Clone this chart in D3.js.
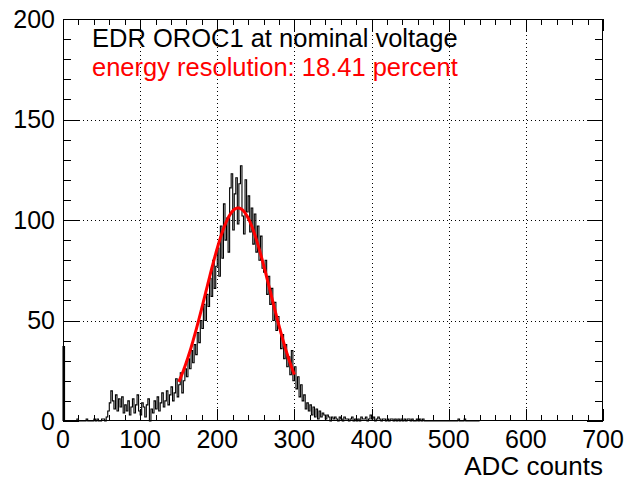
<!DOCTYPE html>
<html>
<head>
<meta charset="utf-8">
<script src="https://cdn.jsdelivr.net/npm/d3@7"></script>
<style>
  html, body { margin: 0; padding: 0; background: #fff; }
  svg { display: block; font-family: "Liberation Sans", Arial, Helvetica, sans-serif; }
</style>
</head>
<body>
<svg id="chart" width="624" height="484"></svg>
<script>
// ADC spectrum, 2 ADC counts per bin, first bin starting at 0
const binStart = 0;
const binWidth = 2;
const counts = [
  37, 0, 0, 0, 0, 0, 0, 0, 0, 1,          // 0-20
  0, 0, 0, 0, 0, 1, 0, 0, 0, 0,           // 20-40
  1, 0, 1, 0, 0, 1, 1, 0, 2, 5,           // 40-60
  9, 15, 10, 6, 13, 5, 11, 7, 12, 4,      // 60-80
  8, 5, 10, 3, 7, 11, 4, 8, 13, 5,        // 80-100
  3, 9, 7, 2, 8, 11, 0, 6, 4, 10,         // 100-120
  6, 12, 5, 9, 14, 7, 10, 15, 8, 13,      // 120-140
  17, 10, 14, 21, 12, 18, 24, 14, 20, 26, // 140-160
  22, 31, 26, 35, 29, 38, 33, 44, 39, 50, // 160-180
  46, 58, 50, 63, 57, 71, 62, 80, 66, 77, // 180-200
  86, 72, 97, 81, 108, 90, 101, 84, 116, 123, // 200-220
  95, 113, 121, 98, 118, 127, 102, 93, 120, 104, // 220-240
  112, 94, 106, 88, 103, 84, 97, 80, 92, 76, // 240-260
  74, 80, 63, 72, 58, 66, 50, 59, 45, 52, // 260-280
  46, 36, 43, 31, 38, 27, 32, 23, 35, 20, // 280-300
  27, 16, 22, 12, 18, 10, 13, 6, 9, 5,    // 300-320
  8, 3, 7, 2, 6, 1, 5, 2, 4, 3,           // 320-340
  1, 3, 2, 0, 2, 1, 2, 1, 0, 2,           // 340-360
  1, 0, 2, 1, 1, 0, 1, 2, 0, 1,           // 360-380
  0, 1, 0, 2, 1, 1, 2, 0, 1, 3,           // 380-400
  1, 2, 0, 1, 2, 1, 0, 1, 1, 0,           // 400-420
  1, 0, 1, 1, 0, 1, 0, 1, 0, 1,           // 420-440
  0, 1, 0, 1, 1, 0, 1, 0, 0, 1,           // 440-460
  0, 1, 0, 1, 0, 0, 0, 0, 0, 0,           // 460-480
  0, 0, 0, 0, 0, 0, 0, 0, 0, 0,           // 480-500
  0, 0, 0, 0, 0, 0, 1, 0, 0, 0,           // 500-520
  1, 0, 0, 0, 0, 0, 0, 0, 0, 0            // 520-540
];

// Gaussian fit of the photo peak
const fitAmplitude = 106;
const fitMean = 227;
const resolutionPercent = 18.41;            // sigma / mean
const fitRange = [150, 300];

// Axes
const xDomain = [0, 700];
const yDomain = [0, 200];
const xMajorTicks = [0, 100, 200, 300, 400, 500, 600, 700];
const yMajorTicks = [0, 50, 100, 150, 200];
const xMinorStep = 20;
const yMinorStep = 10;

const xTitle = "ADC counts";
const titleLine = "EDR OROC1 at nominal voltage";
const resolutionLine = "energy resolution: " + resolutionPercent.toFixed(2) + " percent";

// ---- layout ----
const frame = { left: 63, top: 19, right: 603, bottom: 421 };
const svg = d3.select("#chart");
svg.append("rect").attr("width", 624).attr("height", 484).attr("fill", "#fff");

const x = d3.scaleLinear().domain(xDomain).range([frame.left, frame.right]);
const y = d3.scaleLinear().domain(yDomain).range([frame.bottom, frame.top]);

const xMinor = d3.range(xDomain[0], xDomain[1] + 1e-9, xMinorStep).filter(v => !xMajorTicks.includes(v));
const yMinor = d3.range(yDomain[0], yDomain[1] + 1e-9, yMinorStep).filter(v => !yMajorTicks.includes(v));

// grid (dotted at major ticks)
const grid = svg.append("g").attr("stroke", "#000").attr("stroke-width", 1)
  .attr("stroke-dasharray", "1,3").attr("shape-rendering", "crispEdges");
xMajorTicks.filter(v => v > xDomain[0] && v < xDomain[1]).forEach(v => {
  grid.append("line").attr("x1", Math.round(x(v)) + 0.5).attr("x2", Math.round(x(v)) + 0.5)
    .attr("y1", frame.top).attr("y2", frame.bottom);
});
yMajorTicks.filter(v => v > yDomain[0] && v < yDomain[1]).forEach(v => {
  grid.append("line").attr("y1", Math.round(y(v)) + 0.5).attr("y2", Math.round(y(v)) + 0.5)
    .attr("x1", frame.left).attr("x2", frame.right);
});

// histogram as steps
const edges = counts.map((c, i) => binStart + i * binWidth);
const stepPts = [[binStart, 0]].concat(counts.map((c, i) => [edges[i], c]));
stepPts.push([binStart + counts.length * binWidth, counts[counts.length - 1]]);
stepPts.push([binStart + counts.length * binWidth, 0]);
const stepLine = d3.line().x(d => x(d[0])).y(d => y(d[1])).curve(d3.curveStepAfter);
svg.append("path").attr("d", stepLine(stepPts))
  .attr("fill", "none").attr("stroke", "#000").attr("stroke-width", 1.1);

// fit curve
const sigma = fitMean * resolutionPercent / 100;
const fitPts = d3.range(fitRange[0], fitRange[1] + 0.01, 1).map(v =>
  [v, fitAmplitude * Math.exp(-((v - fitMean) ** 2) / (2 * sigma * sigma))]);
svg.append("path").attr("d", d3.line().x(d => x(d[0])).y(d => y(d[1]))(fitPts))
  .attr("fill", "none").attr("stroke", "#ff0000").attr("stroke-width", 3);

// frame
svg.append("rect").attr("x", frame.left + 0.5).attr("y", frame.top + 0.5)
  .attr("width", frame.right - frame.left - 1).attr("height", frame.bottom - frame.top - 1)
  .attr("fill", "none").attr("stroke", "#000").attr("stroke-width", 1);

// ticks on all four sides
const ticks = svg.append("g").attr("stroke", "#000").attr("stroke-width", 1).attr("shape-rendering", "crispEdges");
const xMajLen = 12, xMinLen = 6, yMajLen = 16, yMinLen = 8;
function xTick(v, len) {
  const px = Math.round(x(v)) + 0.5;
  ticks.append("line").attr("x1", px).attr("x2", px).attr("y1", frame.bottom).attr("y2", frame.bottom - len);
  ticks.append("line").attr("x1", px).attr("x2", px).attr("y1", frame.top).attr("y2", frame.top + len);
}
function yTick(v, len) {
  const py = Math.round(y(v)) + 0.5;
  ticks.append("line").attr("y1", py).attr("y2", py).attr("x1", frame.left).attr("x2", frame.left + len);
  ticks.append("line").attr("y1", py).attr("y2", py).attr("x1", frame.right).attr("x2", frame.right - len);
}
xMajorTicks.forEach(v => xTick(v, xMajLen));
xMinor.forEach(v => xTick(v, xMinLen));
yMajorTicks.forEach(v => yTick(v, yMajLen));
yMinor.forEach(v => yTick(v, yMinLen));

// tick labels
const labelSize = 25;
svg.append("g").selectAll("text").data(xMajorTicks).join("text")
  .attr("x", d => x(d)).attr("y", 448).attr("text-anchor", "middle")
  .attr("font-size", labelSize).attr("fill", "#000").text(d => d);
svg.append("g").selectAll("text").data(yMajorTicks).join("text")
  .attr("x", 55).attr("y", d => y(d)).attr("dy", "0.35em").attr("text-anchor", "end")
  .attr("font-size", labelSize).attr("fill", "#000").text(d => d);

// axis title
svg.append("text").attr("x", frame.right).attr("y", 475).attr("text-anchor", "end")
  .attr("font-size", 26).attr("fill", "#000").text(xTitle);

// annotations
svg.append("text").attr("x", 92).attr("y", 46.5).attr("font-size", 25.5).attr("fill", "#000").text(titleLine);
svg.append("text").attr("x", 92).attr("y", 75.5).attr("font-size", 25.5).attr("fill", "#ff0000").text(resolutionLine);
</script>
</body>
</html>
